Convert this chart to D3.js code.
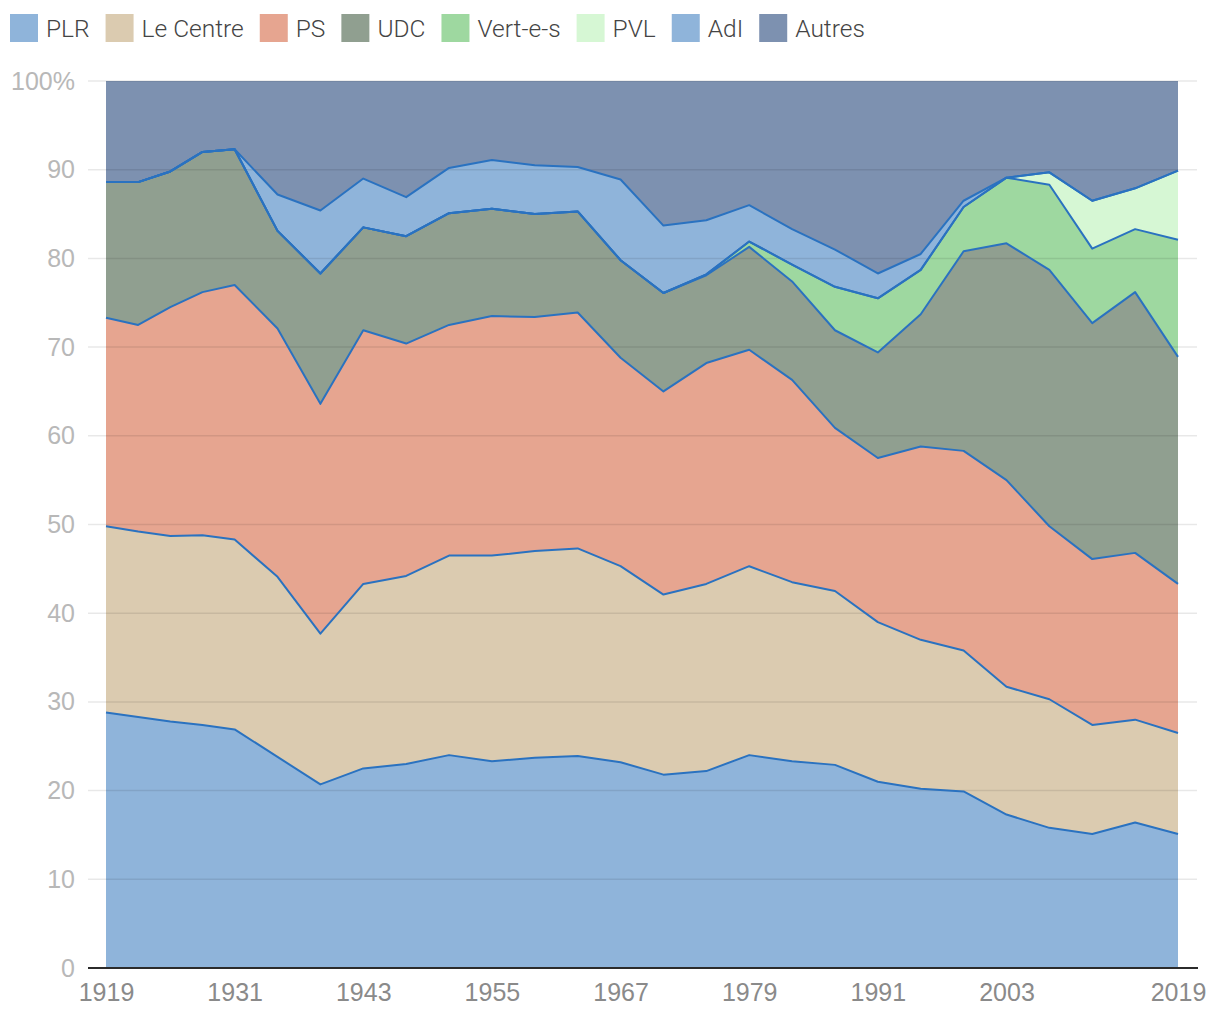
<!DOCTYPE html>
<html>
<head>
<meta charset="utf-8">
<script src="https://cdn.jsdelivr.net/npm/d3@7"></script>
<style>
  body { margin: 0; background: #fff; }
  svg { font-family: Roboto, "Noto Sans", sans-serif; font-weight: 300; }
</style>
</head>
<body>
<div id="chart"></div>
<script>
// élections au Conseil national, part des suffrages (%)
const years = [1919, 1922, 1925, 1928, 1931, 1935, 1939, 1943, 1947, 1951, 1955, 1959, 1963, 1967,
  1971, 1975, 1979, 1983, 1987, 1991, 1995, 1999, 2003, 2007, 2011, 2015, 2019];

const plr = [28.8, 28.3, 27.8, 27.4, 26.9, 23.8, 20.7, 22.5, 23.0, 24.0, 23.3, 23.7, 23.9, 23.2,
  21.8, 22.2, 24.0, 23.3, 22.9, 21.0, 20.2, 19.9, 17.3, 15.8, 15.1, 16.4, 15.1];
const centre = [21.0, 20.9, 20.9, 21.4, 21.4, 20.3, 17.0, 20.8, 21.2, 22.5, 23.2, 23.3, 23.4, 22.1,
  20.3, 21.1, 21.3, 20.2, 19.6, 18.0, 16.8, 15.9, 14.4, 14.5, 12.3, 11.6, 11.4];
const ps = [23.5, 23.3, 25.8, 27.4, 28.7, 28.0, 25.9, 28.6, 26.2, 26.0, 27.0, 26.4, 26.6, 23.5,
  22.9, 24.9, 24.4, 22.8, 18.4, 18.5, 21.8, 22.5, 23.3, 19.5, 18.7, 18.8, 16.8];
const udc = [15.3, 16.1, 15.3, 15.8, 15.3, 11.0, 14.7, 11.6, 12.1, 12.6, 12.1, 11.6, 11.4, 11.0,
  11.1, 9.9, 11.6, 11.1, 11.0, 11.9, 14.9, 22.5, 26.7, 28.9, 26.6, 29.4, 25.6];
const verts = [0, 0, 0, 0, 0, 0, 0, 0, 0, 0, 0, 0, 0, 0,
  0, 0.1, 0.6, 1.9, 4.9, 6.1, 5.0, 5.0, 7.4, 9.6, 8.4, 7.1, 13.2];
const pvl = [0, 0, 0, 0, 0, 0, 0, 0, 0, 0, 0, 0, 0, 0,
  0, 0, 0, 0, 0, 0, 0, 0, 0, 1.4, 5.4, 4.6, 7.8];
const adl = [0, 0, 0, 0, 0, 4.1, 7.1, 5.5, 4.4, 5.1, 5.5, 5.5, 5.0, 9.1,
  7.6, 6.1, 4.1, 4.0, 4.2, 2.8, 1.8, 0.7, 0, 0, 0, 0, 0];
const autres = [11.4, 11.4, 10.2, 8.0, 7.7, 12.8, 14.6, 11.0, 13.1, 9.8, 8.9, 9.5, 9.7, 11.1,
  16.3, 15.7, 14.0, 16.7, 19.0, 21.7, 19.5, 13.5, 10.9, 10.3, 13.5, 12.1, 10.1];

const parties = ["PLR", "Le Centre", "PS", "UDC", "Vert-e-s", "PVL", "AdI", "Autres"];
const series = [plr, centre, ps, udc, verts, pvl, adl, autres];
const colors = ["#8fb4da", "#dbcbb0", "#e6a590", "#909f90", "#9ed8a0", "#d6f7d4", "#8fb4da", "#7d91b0"];
const yTicks = [0, 10, 20, 30, 40, 50, 60, 70, 80, 90, 100];
const xTicks = [1919, 1931, 1943, 1955, 1967, 1979, 1991, 2003, 2019];

const width = 1220, height = 1020;

const table = years.map((y, i) => {
  const row = {year: y};
  parties.forEach((p, j) => row[p] = series[j][i]);
  return row;
});

const stacked = d3.stack().keys(parties)(table);

const x = d3.scaleLinear().domain([1919, 2019]).range([106, 1178]);
const y = d3.scaleLinear().domain([0, 100]).range([968, 81]);

const svg = d3.select("#chart").append("svg")
  .attr("width", width)
  .attr("height", height);

// areas
const area = d3.area()
  .x(d => x(d.data.year))
  .y0(d => y(d[0]))
  .y1(d => y(d[1]));

svg.append("g")
  .selectAll("path")
  .data(stacked)
  .join("path")
  .attr("fill", (d, i) => colors[i])
  .attr("d", area);

// grid
svg.append("g")
  .selectAll("line")
  .data(yTicks.filter(t => t > 0))
  .join("line")
  .attr("x1", 88).attr("x2", 1197)
  .attr("y1", d => y(d)).attr("y2", d => y(d))
  .attr("stroke", "rgba(0,0,0,0.09)")
  .attr("stroke-width", 1.5);

// top lines of every layer except the last
const line = d3.line()
  .x(d => x(d.data.year))
  .y(d => y(d[1]));

svg.append("g")
  .selectAll("path")
  .data(stacked.slice(0, -1))
  .join("path")
  .attr("fill", "none")
  .attr("stroke", "#2a72c0")
  .attr("stroke-width", 2)
  .attr("stroke-linejoin", "round")
  .attr("d", line);

// y axis labels
const yAxis = svg.append("g")
  .attr("transform", "translate(75,0)")
  .call(d3.axisLeft(y).tickValues(yTicks).tickSize(0).tickPadding(0)
    .tickFormat(d => d === 100 ? "100%" : d));
yAxis.select(".domain").remove();
yAxis.selectAll("text")
  .attr("fill", "#b8b8b8")
  .attr("font-size", 25)
  .attr("font-family", null);

// x axis
const xAxis = svg.append("g")
  .attr("transform", "translate(0,968)")
  .call(d3.axisBottom(x).tickValues(xTicks).tickSize(0).tickPadding(15)
    .tickFormat(d3.format("d")));
xAxis.select(".domain").remove();
xAxis.selectAll("text")
  .attr("fill", "#8a8a8a")
  .attr("font-size", 25)
  .attr("font-family", null);
svg.append("line")
  .attr("x1", 88).attr("x2", 1198)
  .attr("y1", 968).attr("y2", 968)
  .attr("stroke", "#2b2b2b")
  .attr("stroke-width", 2);

// legend
const legend = svg.append("g").attr("transform", "translate(10,14)");
let lx = 0;
parties.forEach((p, i) => {
  const g = legend.append("g").attr("transform", `translate(${lx},0)`);
  g.append("rect")
    .attr("width", 28).attr("height", 28)
    .attr("fill", colors[i]);
  const t = g.append("text")
    .attr("x", 36).attr("y", 23)
    .attr("fill", "#444")
    .attr("font-size", 24.5)
    .text(p);
  lx += 36 + t.node().getComputedTextLength() + 16;
});
</script>
</body>
</html>
